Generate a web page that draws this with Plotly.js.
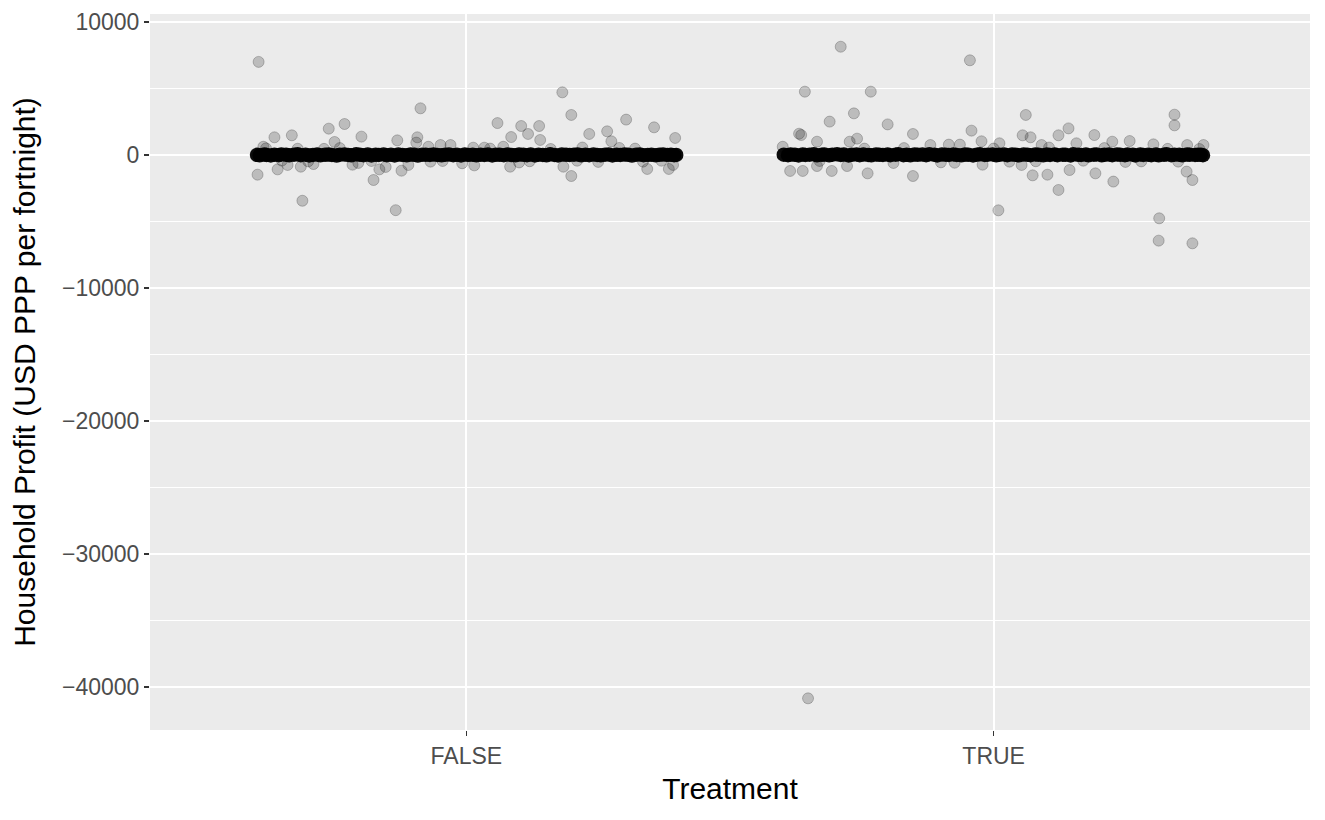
<!DOCTYPE html>
<html>
<head>
<meta charset="utf-8">
<script src="https://cdn.plot.ly/plotly-3.0.1.min.js"></script>
<style>html,body{margin:0;padding:0;background:#fff;}#chart{width:1325px;height:820px;}</style>
</head>
<body>
<div id="chart"></div>
<script>
// Categories and axis labels
const categories = ['FALSE', 'TRUE'];
const categoryPos = [1, 2];
const yTickVals = [-40000, -30000, -20000, -10000, 0, 10000];
const yTickText = ['\u221240000', '\u221230000', '\u221220000', '\u221210000', '0', '10000'];
const yMinorVals = [-35000, -25000, -15000, -5000, 5000];

// FALSE group: scattered households (jitter offset, profit)
const falseOutJit = [-0.394,-0.261,-0.231,-0.364,-0.331,-0.199,-0.250,-0.396,-0.358,-0.314,
  -0.290,-0.339,-0.216,-0.176,-0.165,-0.311,-0.134,-0.087,0.059,0.104,
  0.117,0.085,-0.131,-0.093,-0.095,-0.123,0.083,0.015,-0.153,0.182,
  0.199,0.303,0.356,0.138,0.233,0.267,0.396,0.140,0.275,0.199,
  0.343,0.384,0.184,0.392,-0.072,-0.049,-0.030,0.013,0.034,0.070,
  -0.110,-0.068,-0.008,-0.380,-0.300,-0.240,-0.180,0.160,0.250,0.320,
  0.370,0.220,-0.350,-0.270,0.100,-0.385,-0.205,-0.045,0.120,0.290,
  0.335,-0.320,0.045,0.210];
const falseOutY = [7000,1980,2330,1330,1480,1380,980,-1480,-1080,-880,
  -680,-750,-730,-1880,-1080,-3440,-4150,3510,2400,2180,
  1580,1350,1100,1330,930,-1180,-880,-780,-900,4710,
  3010,2660,2080,2180,1580,1780,1280,1130,1030,-1580,
  -1050,-1050,-880,-750,620,750,750,550,550,620,
  -750,-500,-620,500,-480,520,-450,450,-520,480,
  -430,560,-420,460,-560,620,-600,-450,-470,530,
  -500,470,480,-430];

// TRUE group: scattered households (jitter offset, profit)
const trueOutJit = [-0.290,-0.358,-0.233,-0.265,-0.311,-0.201,-0.369,-0.365,-0.259,-0.153,
  -0.335,-0.386,-0.362,-0.307,-0.239,-0.153,-0.278,-0.335,-0.045,0.061,
  -0.042,0.055,0.070,0.123,-0.023,0.011,-0.085,-0.064,0.091,0.074,
  0.102,0.123,0.009,-0.021,-0.074,0.053,0.343,0.343,0.142,0.191,
  0.225,0.258,0.157,0.398,0.367,0.303,0.193,0.227,0.377,0.366,
  0.144,0.314,0.313,0.377,-0.352,-0.273,-0.400,-0.120,-0.100,0.030,
  0.210,0.280,0.330,-0.190,0.250,0.390,-0.330,-0.170,0.000,0.080,
  0.170,-0.245,0.350,0.105];
const trueOutY = [8140,4760,4760,3130,2510,2300,1600,1500,1230,1580,
  1000,-1200,-1200,-1200,-1380,-1580,-830,-830,7120,3010,
  1830,1480,1330,1480,1030,880,780,780,750,-1530,
  -1480,-2630,-4160,-730,-580,-750,3030,2230,2000,1500,
  1000,1050,880,750,750,800,-1380,-2000,-1880,-1250,
  -1130,-4760,-6440,-6640,-40850,1000,620,750,-550,-500,
  520,-480,460,-600,-520,450,-450,520,480,-470,
  -430,480,-500,560];

// Dense band of households close to zero profit
const falseBandJit = [-0.397,-0.392,-0.383,-0.379,-0.371,-0.364,-0.356,-0.351,-0.342,-0.336,
  -0.327,-0.320,-0.314,-0.305,-0.298,-0.291,-0.283,-0.277,-0.268,-0.261,
  -0.255,-0.246,-0.240,-0.231,-0.224,-0.218,-0.209,-0.202,-0.195,-0.187,
  -0.180,-0.172,-0.166,-0.157,-0.151,-0.143,-0.136,-0.129,-0.121,-0.113,
  -0.106,-0.099,-0.092,-0.084,-0.077,-0.069,-0.062,-0.055,-0.047,-0.040,
  -0.033,-0.025,-0.018,-0.010,-0.003,0.004,0.012,0.019,0.027,0.034,
  0.041,0.049,0.056,0.063,0.071,0.078,0.086,0.093,0.100,0.108,
  0.115,0.122,0.130,0.137,0.145,0.152,0.159,0.167,0.174,0.181,
  0.189,0.196,0.204,0.211,0.218,0.226,0.233,0.241,0.248,0.255,
  0.263,0.270,0.277,0.285,0.292,0.300,0.307,0.314,0.322,0.329,
  0.336,0.344,0.351,0.359,0.366,0.373,0.381,0.388,0.394,0.398];
const falseBandY = [10,-20,30,0,-30,20,-10,40,10,-20,
  20,50,-10,20,-30,0,40,-20,10,30,
  0,-40,20,30,0,-20,50,10,-10,30,
  -30,20,0,40,-10,20,-30,30,0,-20,
  30,10,-40,20,10,0,40,0,-20,20,
  30,-10,10,-30,40,0,20,-20,20,0,
  30,-30,20,10,-10,40,0,-20,30,10,
  -10,30,-30,20,0,-20,50,0,-30,30,
  10,0,20,40,-20,20,-10,30,0,-20,
  20,40,-30,10,0,30,10,-40,20,30,
  -10,0,20,-20,10,30,0,20,-10,0];
const trueBandJit = [-0.398,-0.390,-0.385,-0.377,-0.370,-0.362,-0.357,-0.349,-0.341,-0.335,
  -0.326,-0.321,-0.312,-0.306,-0.297,-0.290,-0.284,-0.275,-0.269,-0.260,
  -0.254,-0.247,-0.238,-0.232,-0.223,-0.217,-0.210,-0.201,-0.196,-0.186,
  -0.181,-0.171,-0.165,-0.158,-0.150,-0.144,-0.135,-0.128,-0.122,-0.112,
  -0.107,-0.098,-0.091,-0.085,-0.076,-0.070,-0.061,-0.054,-0.048,-0.039,
  -0.032,-0.026,-0.017,-0.011,-0.002,0.005,0.011,0.020,0.026,0.035,
  0.042,0.048,0.057,0.064,0.070,0.079,0.085,0.094,0.101,0.107,
  0.116,0.121,0.131,0.136,0.146,0.151,0.160,0.166,0.175,0.180,
  0.190,0.195,0.205,0.210,0.219,0.225,0.234,0.240,0.249,0.254,
  0.264,0.269,0.278,0.284,0.293,0.299,0.308,0.313,0.323,0.328,
  0.337,0.343,0.352,0.358,0.367,0.372,0.382,0.387,0.393,0.397];
const trueBandY = [20,-10,30,10,-30,40,0,20,50,-20,
  10,30,-20,20,50,0,30,-30,10,40,
  -10,30,0,-20,40,10,0,30,-10,20,
  60,-10,20,-20,40,10,30,-10,50,10,
  -30,30,20,0,40,0,-20,30,10,-30,
  20,50,0,20,40,-20,10,40,-10,30,
  10,-20,30,20,-10,40,10,-20,30,0,
  40,-10,20,10,-30,50,10,0,30,-20,
  20,40,-20,10,30,-10,40,10,-10,30,
  20,-30,40,0,20,-10,30,-20,10,50,
  -10,20,10,-20,30,10,0,20,10,-10];

function xs(pos, jit) { return jit.map(j => pos + j); }

const pointMarker = {
  size: 11,
  color: 'rgba(0,0,0,0.2)',
  line: {color: 'rgba(0,0,0,0.22)', width: 1}
};
const bandMarker = {
  size: 14.5,
  color: 'rgba(0,0,0,0.95)',
  line: {width: 0}
};

const traces = [
  {type: 'scatter', mode: 'markers', x: xs(categoryPos[0], falseOutJit), y: falseOutY, marker: pointMarker, hoverinfo: 'y', showlegend: false},
  {type: 'scatter', mode: 'markers', x: xs(categoryPos[1], trueOutJit), y: trueOutY, marker: pointMarker, hoverinfo: 'y', showlegend: false},
  {type: 'scatter', mode: 'markers', x: xs(categoryPos[0], falseBandJit), y: falseBandY, marker: bandMarker, hoverinfo: 'y', showlegend: false},
  {type: 'scatter', mode: 'markers', x: xs(categoryPos[1], trueBandJit), y: trueBandY, marker: bandMarker, hoverinfo: 'y', showlegend: false}
];

const layout = {
  width: 1325,
  height: 820,
  margin: {l: 150, r: 15, t: 14, b: 90},
  paper_bgcolor: '#FFFFFF',
  plot_bgcolor: '#EBEBEB',
  font: {family: '"Liberation Sans", Arial, sans-serif', color: '#000000'},
  showlegend: false,
  xaxis: {
    range: [0.4, 2.6],
    tickmode: 'array',
    tickvals: categoryPos,
    ticktext: categories,
    showgrid: true,
    gridcolor: '#FFFFFF',
    gridwidth: 2,
    zeroline: false,
    showline: false,
    ticks: 'outside',
    ticklen: 5,
    tickwidth: 1.1,
    tickcolor: '#333333',
    tickfont: {size: 23, color: '#4D4D4D'},
    title: {text: 'Treatment', font: {size: 30, color: '#000000'}, standoff: 10},
    automargin: false,
    fixedrange: true
  },
  yaxis: {
    range: [-43230, 10600],
    tickmode: 'array',
    tickvals: yTickVals,
    ticktext: yTickText,
    showgrid: true,
    gridcolor: '#FFFFFF',
    gridwidth: 2,
    minor: {tickmode: 'array', tickvals: yMinorVals, showgrid: true, gridcolor: '#FFFFFF', gridwidth: 1, ticks: ''},
    zeroline: false,
    showline: false,
    ticks: 'outside',
    ticklen: 5,
    tickwidth: 1.1,
    tickcolor: '#333333',
    tickfont: {size: 23, color: '#4D4D4D'},
    title: {text: 'Household Profit (USD PPP per fortnight)', font: {size: 30, color: '#000000'}, standoff: 17},
    automargin: false,
    fixedrange: true
  }
};

Plotly.newPlot('chart', traces, layout, {displayModeBar: false, staticPlot: true});
</script>
</body>
</html>
